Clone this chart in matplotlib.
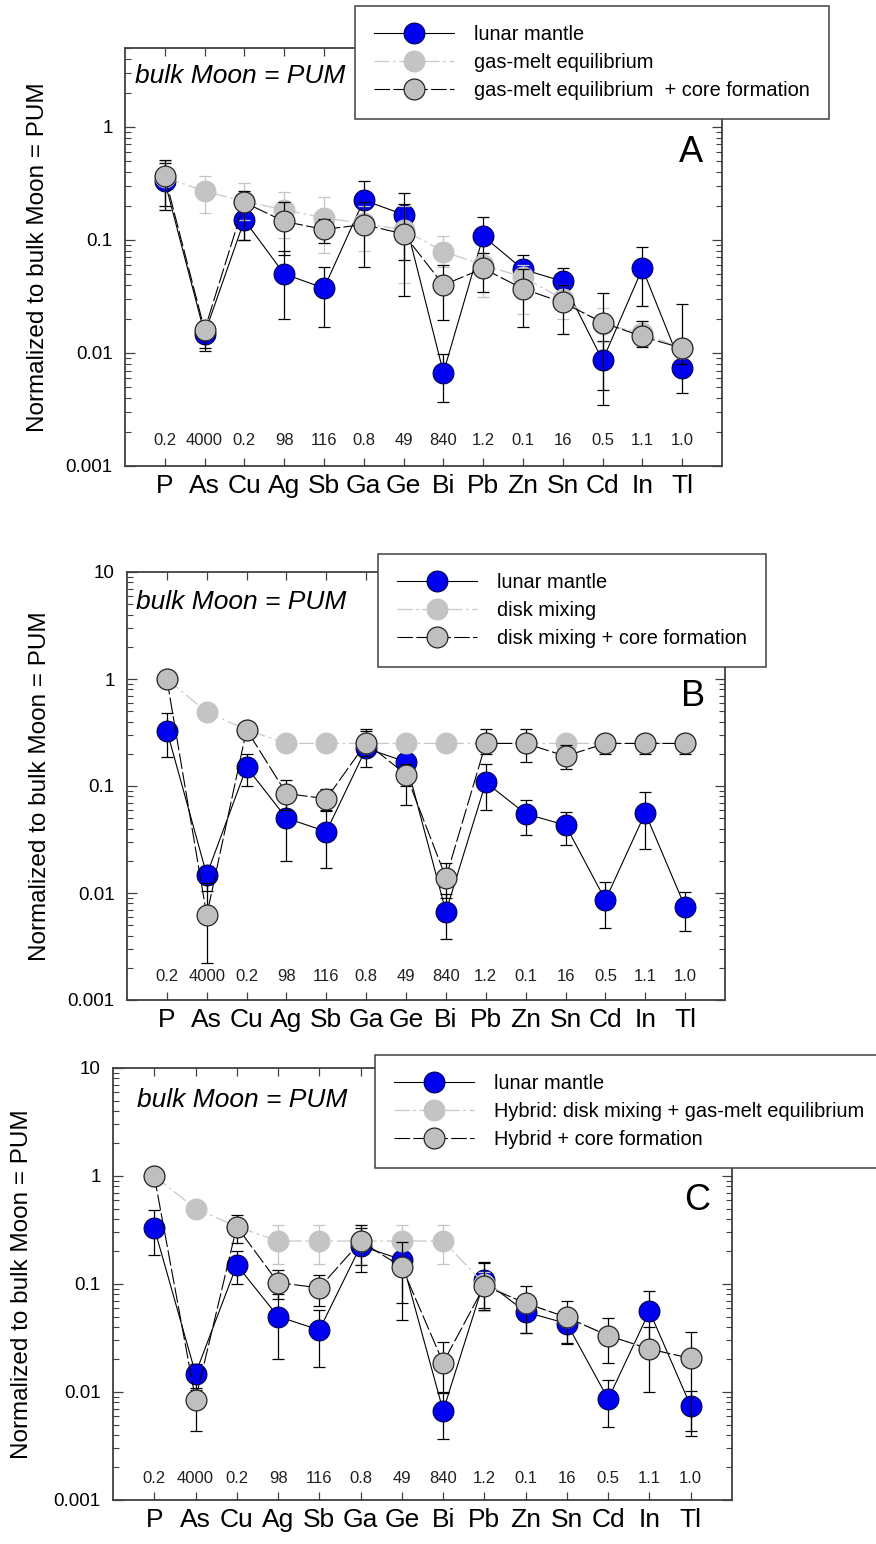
import numpy as np
import matplotlib
matplotlib.use('Agg')
import matplotlib.pyplot as plt
from matplotlib.ticker import LogLocator, NullFormatter

plt.rcParams['font.family'] = ['Liberation Sans', 'DejaVu Sans']

nan = np.nan

elements = ['P', 'As', 'Cu', 'Ag', 'Sb', 'Ga', 'Ge', 'Bi', 'Pb', 'Zn', 'Sn', 'Cd', 'In', 'Tl']
partition = ['0.2', '4000', '0.2', '98', '116', '0.8', '49', '840', '1.2', '0.1', '16', '0.5', '1.1', '1.0']

# lunar mantle (same in all three panels)
lunar = [0.33, 0.0148, 0.15, 0.05, 0.0375, 0.225, 0.168, 0.0067, 0.108, 0.055, 0.043, 0.0086, 0.056, 0.0074]
lunar_lo = [0.186, 0.0105, 0.10, 0.02, 0.017, 0.15, 0.066, 0.0037, 0.06, 0.035, 0.028, 0.0047, 0.026, 0.0044]
lunar_hi = [0.48, 0.018, 0.20, 0.08, 0.058, 0.33, 0.26, 0.0098, 0.16, 0.074, 0.057, 0.0128, 0.087, 0.0103]

# panel A: gas-melt equilibrium
gasmelt = [0.36, 0.27, 0.22, 0.185, 0.157, 0.14, 0.123, 0.079, 0.06, 0.047, 0.03, 0.018, 0.015, 0.011]
gasmelt_lo = [0.20, 0.174, 0.15, 0.104, 0.077, 0.08, 0.042, 0.058, 0.031, 0.022, 0.02, 0.0125, 0.0115, 0.009]
gasmelt_hi = [0.50, 0.37, 0.32, 0.265, 0.24, 0.2, 0.2, 0.109, 0.077, 0.06, 0.04, 0.025, 0.019, 0.013]
gasmelt_core = [0.367, 0.016, 0.215, 0.146, 0.124, 0.137, 0.113, 0.040, 0.056, 0.037, 0.028, 0.0186, 0.014, 0.011]
gasmelt_core_lo = [0.20, 0.011, 0.10, 0.074, 0.094, 0.058, 0.032, 0.0196, 0.035, 0.017, 0.0147, 0.0035, 0.0114, 0.008]
gasmelt_core_hi = [0.51, 0.019, 0.27, 0.217, 0.152, 0.217, 0.21, 0.06, 0.077, 0.055, 0.04, 0.034, 0.019, 0.027]

# panel B: disk mixing
disk = [1.0, 0.49, 0.335, 0.25, 0.25, 0.25, 0.25, 0.25, 0.25, 0.25, 0.25, 0.25, 0.25, 0.25]
disk_lo = [nan] * 14
disk_hi = [nan] * 14
disk_core = [1.0, 0.0062, 0.335, 0.085, 0.076, 0.253, 0.128, 0.0139, 0.25, 0.25, 0.19, 0.25, 0.25, 0.25]
disk_core_lo = [nan, 0.0022, nan, 0.06, 0.06, 0.19, 0.10, 0.009, 0.2, 0.167, 0.143, 0.2, 0.2, 0.2]
disk_core_hi = [nan, 0.0125, nan, 0.115, 0.094, 0.34, 0.16, 0.019, 0.34, 0.34, 0.24, 0.3, 0.3, 0.3]

# panel C: hybrid
hybrid = [1.0, 0.50, 0.34, 0.25, 0.25, 0.25, 0.25, 0.25, 0.1, 0.066, 0.049, 0.033, 0.025, 0.0205]
hybrid_lo = [nan, nan, nan, 0.153, 0.153, 0.153, 0.153, 0.153, 0.056, nan, nan, nan, nan, nan]
hybrid_hi = [nan, nan, nan, 0.35, 0.35, 0.35, 0.35, 0.35, 0.13, nan, nan, nan, nan, nan]
hybrid_core = [1.0, 0.0085, 0.34, 0.103, 0.092, 0.248, 0.144, 0.0187, 0.096, 0.0665, 0.049, 0.0333, 0.025, 0.0205]
hybrid_core_lo = [nan, 0.0044, 0.24, 0.072, 0.062, 0.13, 0.046, 0.01, 0.058, 0.035, 0.0286, 0.0185, 0.01, 0.0039]
hybrid_core_hi = [nan, 0.011, 0.44, 0.134, 0.122, 0.352, 0.245, 0.029, 0.155, 0.095, 0.069, 0.0484, 0.04, 0.036]

W, H = 876, 1544
fig = plt.figure(figsize=(W / 100, H / 100), dpi=100)
x = np.arange(1, len(elements) + 1)


def yerr(v, lo, hi):
    v, lo, hi = np.array(v), np.array(lo), np.array(hi)
    return np.vstack([v - lo, hi - v])


def panel(px, model, model_lo, model_hi, core, core_lo, core_hi, names, ymax,
          leg_px, letter, letter_pos, txt_pos, num_y, ylab_x):
    l, r, t, b = px
    ax = fig.add_axes([l / W, 1 - b / H, (r - l) / W, (b - t) / H])
    ax.set_yscale('log')

    ax.errorbar(x, lunar, yerr=yerr(lunar, lunar_lo, lunar_hi), fmt='none',
                ecolor='black', elinewidth=0.9, capsize=4.5, capthick=0.9, zorder=2)
    h1, = ax.plot(x, lunar, '-', color='black', lw=0.8, marker='o', ms=15,
                  mfc='#0000f0', mec='#000050', mew=0.8, zorder=3)

    ax.errorbar(x, model, yerr=yerr(model, model_lo, model_hi), fmt='none',
                ecolor='#c4c4c4', elinewidth=0.9, capsize=4.5, capthick=0.9, zorder=4)
    h2, = ax.plot(x, model, color='#c8c8c8', lw=0.9, ls=(0, (12, 3, 2, 3)),
                  marker='o', ms=15, mfc='#c4c4c4', mec='#c4c4c4', mew=0.8, zorder=5)

    ax.errorbar(x, core, yerr=yerr(core, core_lo, core_hi), fmt='none',
                ecolor='black', elinewidth=0.9, capsize=4.5, capthick=0.9, zorder=6)
    h3, = ax.plot(x, core, color='black', lw=0.8, ls=(0, (14, 3)),
                  marker='o', ms=15, mfc='#bfbfbf', mec='#262626', mew=0.9, zorder=7)

    ax.set_xlim(0, 15)
    ax.set_ylim(0.001, ymax)
    ax.set_xticks(x)
    ax.set_xticklabels(elements, fontsize=19)
    yt = [t_ for t_ in [0.001, 0.01, 0.1, 1, 10] if t_ <= ymax]
    ax.set_yticks(yt)
    ax.set_yticklabels(['%g' % t_ for t_ in yt], fontsize=13.5)
    ax.yaxis.set_minor_locator(LogLocator(base=10, subs=np.arange(2, 10), numticks=20))
    ax.yaxis.set_minor_formatter(NullFormatter())
    ax.tick_params(axis='both', which='both', direction='in', top=True, right=True,
                   color='#404040')
    ax.tick_params(axis='y', which='major', length=7, width=0.9, pad=9)
    ax.tick_params(axis='y', which='minor', length=4, width=0.8)
    ax.tick_params(axis='x', which='major', length=6, width=0.9, pad=6)
    for s in ax.spines.values():
        s.set_color('#404040')
        s.set_linewidth(1.3)

    for xi, p in zip(x, partition):
        ax.text(xi, num_y, p, transform=ax.get_xaxis_transform(), ha='center',
                va='center', fontsize=12, color='#202020')

    ax.text(txt_pos[0], txt_pos[1], 'bulk Moon = PUM', transform=ax.transAxes,
            fontsize=19, style='italic', ha='left', va='center')
    ax.text(letter_pos[0], letter_pos[1], letter, transform=ax.transAxes,
            fontsize=26, ha='center', va='center')

    fig.text(ylab_x / W, 1 - (t + b) / 2 / H, 'Normalized to bulk Moon = PUM',
             rotation=90, ha='center', va='center', fontsize=17.5)

    leg = ax.legend([h1, h2, h3], names, loc='upper left',
                    bbox_to_anchor=(leg_px[0] / W, 1 - leg_px[1] / H),
                    bbox_transform=fig.transFigure, fontsize=14.4, frameon=True,
                    fancybox=False, edgecolor='#404040', framealpha=1,
                    borderpad=0.95, handlelength=4.0, handletextpad=1.0,
                    labelspacing=0.45, borderaxespad=0)
    leg.get_frame().set_linewidth(1.1)
    leg.set_zorder(10)
    return ax


panel((125, 722, 48, 466), gasmelt, gasmelt_lo, gasmelt_hi,
      gasmelt_core, gasmelt_core_lo, gasmelt_core_hi,
      ['lunar mantle', 'gas-melt equilibrium', 'gas-melt equilibrium  + core formation'],
      5, (355, 6), 'A', (0.948, 0.751), (0.017, 0.933), 0.062, 38)

panel((127, 725, 572, 1000), disk, disk_lo, disk_hi,
      disk_core, disk_core_lo, disk_core_hi,
      ['lunar mantle', 'disk mixing', 'disk mixing + core formation'],
      10, (378, 554), 'B', (0.946, 0.708), (0.015, 0.93), 0.054, 40)

panel((113, 732, 1068, 1500), hybrid, hybrid_lo, hybrid_hi,
      hybrid_core, hybrid_core_lo, hybrid_core_hi,
      ['lunar mantle', 'Hybrid: disk mixing + gas-melt equilibrium', 'Hybrid + core formation'],
      10, (375, 1055), 'C', (0.943, 0.694), (0.039, 0.926), 0.049, 22)

fig.savefig('out.png', dpi=100, facecolor='white')
